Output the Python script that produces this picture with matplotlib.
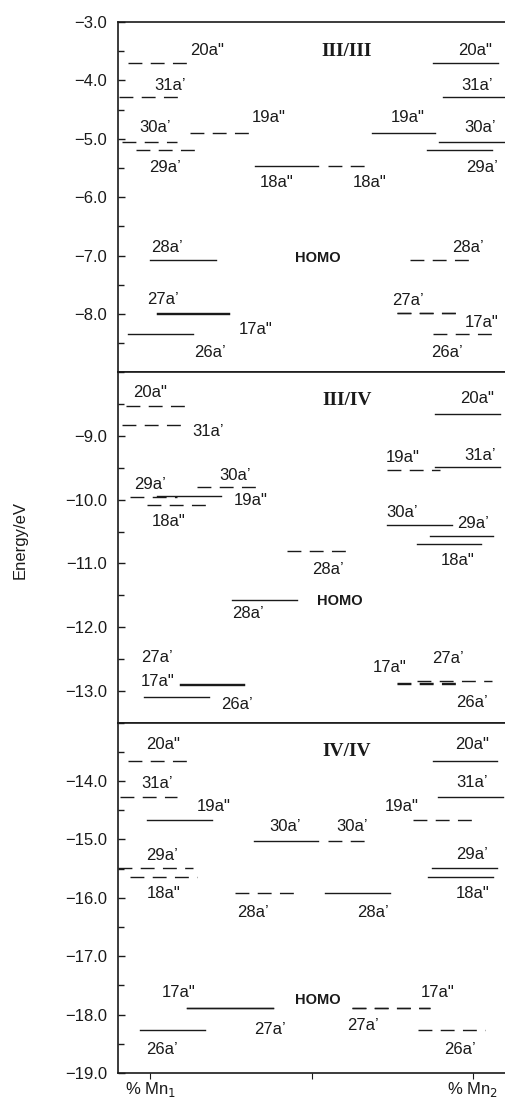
import matplotlib.pyplot as plt
from matplotlib.ticker import MultipleLocator

plt.rcParams['font.family'] = ['Liberation Sans', 'DejaVu Sans']

# Orbital levels for the three Mn oxidation-state pairs
panel_names = ['III/III', 'III/IV', 'IV/IV']
ylims = [(-9.0, -3.0), (-13.5, -8.0), (-19.0, -13.0)]
homo_y = [-7.05, -11.59, -17.75]

orb_33 = ['20a"', "31a’", "30a’", "29a’", '19a"', '18a"', '18a"', '19a"', '20a"', "31a’",
          "30a’", "29a’", "28a’", "28a’", "27a’", '17a"', "26a’", "27a’", '17a"', "26a’"]
e_33 = [-3.71, -4.29, -5.05, -5.19, -4.90, -5.46, -5.46, -4.90, -3.71, -4.29,
        -5.05, -5.19, -7.07, -7.07, -7.98, -8.00, -8.35, -7.99, -7.99, -8.35]

orb_34 = ['20a"', "31a’", "30a’", "29a’", '19a"', '18a"', "28a’", "28a’", "27a’", '17a"',
          "26a’", '20a"', '19a"', "31a’", "30a’", "29a’", '18a"', '17a"', "27a’", "26a’"]
e_34 = [-8.53, -8.83, -9.80, -9.96, -9.94, -10.09, -11.57, -10.81, -12.89, -12.91,
        -13.10, -8.66, -9.53, -9.49, -10.40, -10.57, -10.69, -12.89, -12.88, -12.85]

orb_44 = ['20a"', '20a"', "31a’", "31a’", '19a"', '19a"', "30a’", "30a’", "29a’", "29a’",
          '18a"', '18a"', "28a’", "28a’", '17a"', "27a’", '17a"', "27a’", "26a’", "26a’"]
e_44 = [-13.66, -13.66, -14.28, -14.28, -14.66, -14.66, -15.02, -15.02, -15.49, -15.49,
        -15.65, -15.65, -15.92, -15.92, -17.88, -17.89, -17.88, -17.88, -18.27, -18.27]

# layout: (x start, x end, dashed, label x, label offset in eV)
lay_33 = [(-0.068, 0.133, 1, 0.176, 0.23), (-0.096, 0.102, 1, 0.062, 0.21),
          (-0.087, 0.084, 1, 0.015, 0.24), (-0.046, 0.155, 1, 0.046, -0.31),
          (0.124, 0.325, 1, 0.368, 0.26), (0.325, 0.52, 0, 0.393, -0.29),
          (0.551, 0.687, 1, 0.681, -0.29), (0.687, 0.882, 0, 0.799, 0.26),
          (0.876, 1.077, 0, 1.006, 0.23), (0.907, 1.1, 0, 1.012, 0.21),
          (0.895, 1.1, 0, 1.022, 0.24), (0.857, 1.06, 0, 1.028, -0.31),
          (0.0, 0.204, 0, 0.053, 0.21), (0.805, 1.0, 1, 0.985, 0.21),
          (0.02, 0.245, 0, 0.04, 0.23), (0.02, 0.245, 0, 0.325, -0.27),
          (-0.068, 0.133, 0, 0.186, -0.31), (0.765, 0.96, 1, 0.799, 0.22),
          (0.765, 0.96, 1, 1.028, -0.15), (0.876, 1.077, 1, 0.92, -0.31)]
lay_34 = [(-0.077, 0.124, 1, 0.0, 0.22), (-0.087, 0.115, 1, 0.18, -0.10),
          (0.145, 0.34, 1, 0.263, 0.18), (-0.062, 0.084, 1, 0.0, 0.20),
          (0.02, 0.22, 0, 0.31, -0.07), (-0.01, 0.195, 1, 0.056, -0.25),
          (0.254, 0.455, 0, 0.303, -0.21), (0.424, 0.625, 1, 0.551, -0.29),
          (0.093, 0.291, 0, 0.022, 0.42), (0.093, 0.291, 0, 0.022, 0.05),
          (-0.02, 0.183, 0, 0.269, -0.12), (0.882, 1.084, 0, 1.012, 0.25),
          (0.734, 0.898, 1, 0.783, 0.19), (0.882, 1.084, 0, 1.022, 0.19),
          (0.734, 0.935, 0, 0.78, 0.20), (0.867, 1.062, 0, 1.0, 0.20),
          (0.827, 1.025, 0, 0.954, -0.27), (0.765, 0.96, 1, 0.743, 0.25),
          (0.765, 0.96, 1, 0.923, 0.38), (0.827, 1.06, 1, 0.997, -0.34)]
lay_44 = [(-0.071, 0.133, 1, 0.04, 0.28), (0.876, 1.074, 0, 0.997, 0.28),
          (-0.093, 0.084, 1, 0.022, 0.24), (0.892, 1.093, 0, 0.997, 0.25),
          (-0.01, 0.192, 0, 0.195, 0.22), (0.814, 1.016, 1, 0.78, 0.22),
          (0.322, 0.52, 0, 0.418, 0.24), (0.551, 0.681, 1, 0.625, 0.24),
          (-0.1, 0.133, 1, 0.037, 0.21), (0.873, 1.074, 0, 0.997, 0.24),
          (-0.062, 0.145, 1, 0.04, -0.27), (0.86, 1.062, 0, 1.0, -0.27),
          (0.263, 0.464, 1, 0.319, -0.34), (0.542, 0.743, 0, 0.69, -0.34),
          (0.114, 0.381, 0, 0.087, 0.25), (0.114, 0.381, 0, 0.372, -0.37),
          (0.625, 0.867, 1, 0.892, 0.25), (0.625, 0.867, 1, 0.66, -0.30),
          (-0.031, 0.17, 0, 0.037, -0.33), (0.83, 1.037, 1, 0.96, -0.33)]

panels = [(orb_33, e_33, lay_33), (orb_34, e_34, lay_34), (orb_44, e_44, lay_44)]
yticks = [[-3, -4, -5, -6, -7, -8], [-9, -10, -11, -12, -13], [-14, -15, -16, -17, -18, -19]]

fig = plt.figure(figsize=(5.05, 10.99), dpi=100)
left, right, top, bottom = 0.234, 1.0, 0.980, 0.0237
h = (top - bottom) / 3
col = '#1a1a1a'

for i, (orbs, energies, lay) in enumerate(panels):
    ax = fig.add_axes([left, top - (i + 1) * h, right - left, h])
    for name, e, (x0, x1, dashed, lx, dy) in zip(orbs, energies, lay):
        if dashed:
            ax.plot([x0, x1], [e, e], color=col, lw=1.0, dashes=(10, 6))
        else:
            ax.plot([x0, x1], [e, e], color=col, lw=1.0)
        ax.text(lx, e + dy, name, ha='center', va='center', fontsize=12, color=col)
    ax.text(0.61, ylims[i][1] - 0.5 if i != 1 else -8.45, panel_names[i],
            family=['Liberation Serif', 'DejaVu Serif'], fontweight='bold',
            fontsize=14, ha='center', va='center', color=col)
    ax.text(0.52 if i != 1 else 0.588, homo_y[i], 'HOMO', fontweight='bold',
            fontsize=10.5, ha='center', va='center', color=col)

    ax.set_xlim(-0.1, 1.1)
    ax.set_ylim(*ylims[i])
    ax.spines['right'].set_visible(False)
    for s in ['left', 'top', 'bottom']:
        ax.spines[s].set_linewidth(1.2)
        ax.spines[s].set_color(col)
    ax.yaxis.set_minor_locator(MultipleLocator(0.5))
    ax.set_yticks(yticks[i])
    ax.yaxis.set_major_formatter(lambda v, p: f'{v:.1f}'.replace('-', '\u2212'))
    ax.tick_params(axis='y', which='both', direction='in', length=5, width=1,
                   labelsize=12, pad=8, colors=col)
    ax.tick_params(axis='y', which='minor', length=4)

    if i < 2:
        ax.set_xticks([])
    else:
        ax.set_xticks([0, 0.5, 1])
        ax.set_xticklabels(['% Mn$_1$', '', '% Mn$_2$'])
        ax.tick_params(axis='x', direction='out', length=4, labelsize=12, pad=1, colors=col)

fig.text(20 / 505, 0.509, 'Energy/eV', rotation=90, ha='center', va='center',
         fontsize=12, color=col)

plt.savefig('out.png', dpi=100)
